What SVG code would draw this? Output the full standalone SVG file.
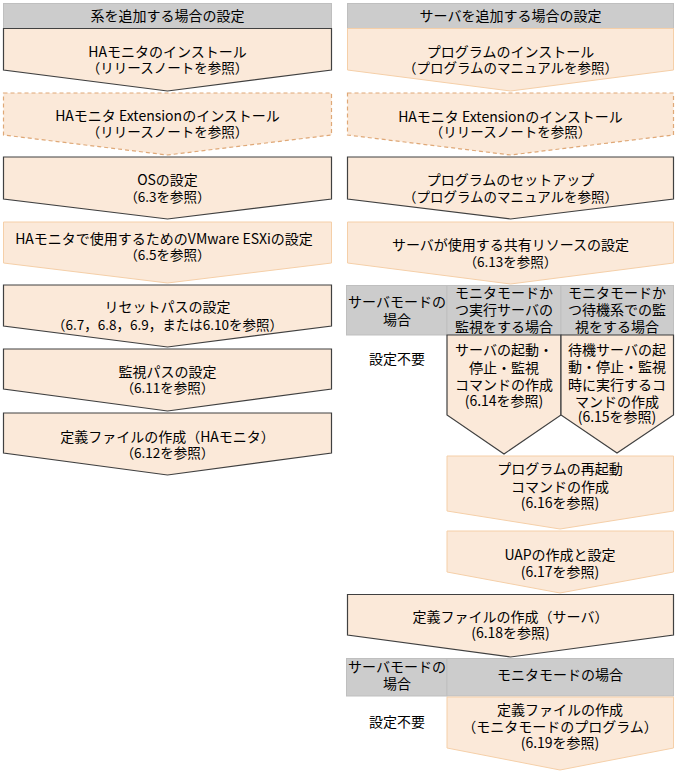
<svg xmlns="http://www.w3.org/2000/svg" width="687" height="773" viewBox="0 0 687 773">
<style>
text{font-family:"Noto Sans CJK JP","Noto Sans",sans-serif;font-size:13.5px;fill:#000;text-anchor:middle}
.t{font-size:14px}
.hd{fill:#CCCCCC;stroke:#BFBFBF;stroke-width:1}
.dk{fill:#FBE9D9;stroke:#404040;stroke-width:1.2}
.lt{fill:#FBE9D9;stroke:#F5CFA8;stroke-width:1}
.ds{fill:#FBE9D9;stroke:#DFA877;stroke-width:1.2;stroke-dasharray:4 3}
</style>
<rect width="687" height="773" fill="#FFFFFF"/>
<g id="connectors"/>
<!-- Left column -->
<g id="left-header"><rect class="hd" x="3.5" y="3.5" width="328" height="25"/><text class="t" x="167.5" y="20.5">系を追加する場合の設定</text></g>
<g id="L1"><polygon class="dk" points="3.5,28.5 331.5,28.5 331.5,70 167.5,91 3.5,70"/><text class="t" x="167.5" y="57">HAモニタのインストール</text><text x="167.5" y="73">（リリースノートを参照）</text></g>
<g id="L2"><polygon class="ds" points="3.5,93 331.5,93 331.5,135 167.5,155 3.5,135"/><text class="t" x="167.5" y="121">HAモニタ Extensionのインストール</text><text x="167.5" y="137">（リリースノートを参照）</text></g>
<g id="L3"><polygon class="dk" points="3.5,157 331.5,157 331.5,199 167.5,219 3.5,199"/><text class="t" x="167.5" y="185">OSの設定</text><text x="167.5" y="202">（6.3を参照）</text></g>
<g id="L4"><polygon class="lt" points="3.5,222 331.5,222 331.5,263 167.5,283 3.5,263"/><text class="t" x="164" y="244">HAモニタで使用するためのVMware ESXiの設定</text><text x="167.5" y="260">（6.5を参照）</text></g>
<g id="L5"><polygon class="dk" points="3.5,285 331.5,285 331.5,326 167.5,347 3.5,326"/><text class="t" x="167.5" y="312">リセットパスの設定</text><text x="167.5" y="330">（6.7，6.8，6.9，または6.10を参照）</text></g>
<g id="L6"><polygon class="dk" points="3.5,349 331.5,349 331.5,389 167.5,411 3.5,389"/><text class="t" x="167.5" y="377">監視パスの設定</text><text x="167.5" y="393">（6.11を参照）</text></g>
<g id="L7"><polygon class="dk" points="3.5,413 331.5,413 331.5,453 167.5,475 3.5,453"/><text class="t" x="167.5" y="442">定義ファイルの作成（HAモニタ）</text><text x="167.5" y="458">（6.12を参照）</text></g>
<!-- Right column -->
<g id="right-header"><rect class="hd" x="347.5" y="3.5" width="326" height="25"/><text class="t" x="510.5" y="20.5">サーバを追加する場合の設定</text></g>
<g id="R1"><polygon class="lt" points="347.5,28.5 673.5,28.5 673.5,70 510.5,91 347.5,70"/><text class="t" x="510.5" y="57">プログラムのインストール</text><text x="510.5" y="73">（プログラムのマニュアルを参照）</text></g>
<g id="R2"><polygon class="ds" points="347.5,93 673.5,93 673.5,135 510.5,155 347.5,135"/><text class="t" x="510.5" y="122">HAモニタ Extensionのインストール</text><text x="510.5" y="137">（リリースノートを参照）</text></g>
<g id="R3"><polygon class="dk" points="347.5,157 673.5,157 673.5,199 510.5,219 347.5,199"/><text class="t" x="510.5" y="185">プログラムのセットアップ</text><text x="510.5" y="202">（プログラムのマニュアルを参照）</text></g>
<g id="R4"><polygon class="lt" points="347.5,222 673.5,222 673.5,263 510.5,284 347.5,263"/><text class="t" x="510.5" y="250">サーバが使用する共有リソースの設定</text><text x="510.5" y="267">（6.13を参照）</text></g>
<g id="table1">
<rect class="hd" x="346.5" y="285.5" width="100.5" height="49.5"/>
<rect class="hd" x="447" y="285.5" width="114" height="49.5"/>
<rect class="hd" x="561" y="285.5" width="112.5" height="49.5"/>
<text class="t" x="397" y="307">サーバモードの</text><text class="t" x="397" y="325">場合</text>
<text class="t" x="504" y="298">モニタモードか</text><text class="t" x="504" y="315">つ実行サーバの</text><text class="t" x="504" y="332">監視をする場合</text>
<text class="t" x="617" y="298">モニタモードか</text><text class="t" x="617" y="315">つ待機系での監</text><text class="t" x="617" y="332">視をする場合</text>
</g>
<g id="none1"><text class="t" x="397" y="364">設定不要</text></g>
<g id="S1"><polygon class="dk" points="447,335 561,335 561,415 504,454 447,415"/><text class="t" x="504" y="355">サーバの起動・</text><text class="t" x="504" y="373">停止・監視</text><text class="t" x="504" y="390">コマンドの作成</text><text class="t" x="504" y="406">(6.14を参照)</text></g>
<g id="S2"><polygon class="dk" points="561,335 673.5,335 673.5,415 617,453 561,415"/><text class="t" x="617" y="355">待機サーバの起</text><text class="t" x="617" y="372">動・停止・監視</text><text class="t" x="617" y="390">時に実行するコ</text><text class="t" x="617" y="407">マンドの作成</text><text class="t" x="617" y="422">(6.15を参照)</text></g>
<g id="R5"><polygon class="lt" points="447,456 673.5,456 673.5,511 560,529 447,511"/><text class="t" x="560" y="474">プログラムの再起動</text><text class="t" x="560" y="492">コマンドの作成</text><text class="t" x="560" y="508">(6.16を参照)</text></g>
<g id="R6"><polygon class="lt" points="447,531 673.5,531 673.5,572 560,593 447,572"/><text class="t" x="560" y="560">UAPの作成と設定</text><text class="t" x="560" y="577">(6.17を参照)</text></g>
<g id="R7"><polygon class="dk" points="347.5,594.5 673.5,594.5 673.5,635 510.5,657 347.5,635"/><text class="t" x="510.5" y="622">定義ファイルの作成（サーバ）</text><text class="t" x="510.5" y="638">(6.18を参照)</text></g>
<g id="table2">
<rect class="hd" x="346.5" y="658.5" width="100.5" height="37.5"/>
<rect class="hd" x="447" y="658.5" width="226.5" height="37.5"/>
<text class="t" x="397" y="672">サーバモードの</text><text class="t" x="397" y="689">場合</text>
<text class="t" x="560" y="680">モニタモードの場合</text>
</g>
<g id="none2"><text class="t" x="397" y="727">設定不要</text></g>
<g id="R8"><polygon class="lt" points="447,697 673.5,697 673.5,748 560,770 447,748"/><text class="t" x="560" y="715">定義ファイルの作成</text><text class="t" x="560" y="732">（モニタモードのプログラム）</text><text class="t" x="560" y="748">(6.19を参照)</text></g>
</svg>
